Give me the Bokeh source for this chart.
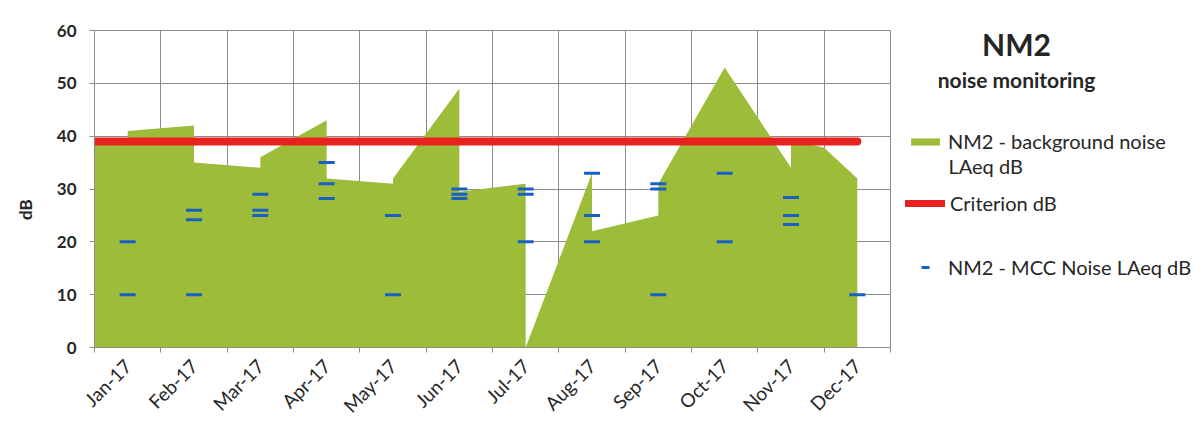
import math
from bokeh.plotting import figure
from bokeh.layouts import row
from bokeh.models import FixedTicker, Legend, LegendItem, Label, Range1d
from bokeh.embed import file_html
from bokeh.resources import INLINE

months = ["Jan-17", "Feb-17", "Mar-17", "Apr-17", "May-17", "Jun-17",
          "Jul-17", "Aug-17", "Sep-17", "Oct-17", "Nov-17", "Dec-17"]

# NM2 background noise: position on the month axis (0 = axis start, 0.5 = Jan-17 ...), LAeq dB
bg_pos = [0.0, 0.5, 0.5, 1.5, 1.5, 2.5, 2.5, 3.5, 3.5, 4.5, 4.5, 5.5, 5.5,
          6.5, 6.5, 7.5, 7.5, 8.5, 8.5, 9.5, 10.5, 10.5, 11.0, 11.5]
bg_db = [39.5, 39.5, 41, 42, 35, 34, 36, 43, 32, 31, 32, 49, 29.5,
         31, 0, 33, 22, 25, 31, 53, 34, 39.3, 37.8, 32]

# Criterion dB
crit_pos = [0.0, 0.5, 1.5, 2.5, 3.5, 4.5, 5.5, 6.5, 7.5, 8.5, 9.5, 10.5, 11.5]
crit_db = [39, 39, 39, 39, 39, 39, 39, 39, 39, 39, 39, 39, 39]

# NM2 - MCC noise LAeq dB
mcc_month = ["Jan-17", "Jan-17",
             "Feb-17", "Feb-17", "Feb-17",
             "Mar-17", "Mar-17", "Mar-17",
             "Apr-17", "Apr-17", "Apr-17",
             "May-17", "May-17",
             "Jun-17", "Jun-17", "Jun-17",
             "Jul-17", "Jul-17", "Jul-17",
             "Aug-17", "Aug-17", "Aug-17",
             "Sep-17", "Sep-17", "Sep-17",
             "Oct-17", "Oct-17",
             "Nov-17", "Nov-17", "Nov-17",
             "Dec-17"]
mcc_db = [20, 10,
          26, 24.2, 10,
          29, 26, 25,
          35, 31, 28.2,
          25, 10,
          30, 29, 28.2,
          30, 29, 20,
          33, 25, 20,
          31, 30, 10,
          33, 20,
          28.4, 25, 23.3,
          10]

db_ticks = [0, 10, 20, 30, 40, 50, 60]

GREEN = "#9dbd3a"
RED = "#e8231f"
BLUE = "#1a5fc4"
GRID = "#8c8c8c"
TXT = "#262626"
FONT = "Lato"

mcc_x = [months.index(m) + 0.5 for m in mcc_month]
centers = [i + 0.5 for i in range(len(months))]
bounds = list(range(len(months) + 1))

# ---------------- main chart ----------------
p = figure(width=891, height=428, output_backend="svg", toolbar_location=None,
           x_range=Range1d(0, len(months)), y_range=Range1d(db_ticks[0], db_ticks[-1]),
           min_border_left=94, min_border_right=1, min_border_top=30, min_border_bottom=80)
p.background_fill_color = "white"
p.border_fill_color = "white"
p.outline_line_color = GRID

area = p.varea(x=bg_pos, y1=0, y2=bg_db, fill_color=GREEN)
crit = p.line(crit_pos, crit_db, line_color=RED, line_width=8, line_cap="round")
mcc = p.scatter(mcc_x, mcc_db, marker="dash", size=16, line_color=BLUE, line_width=3)

# x axis
p.xaxis.ticker = FixedTicker(ticks=centers, minor_ticks=bounds)
p.xaxis.major_label_overrides = {c: m for c, m in zip(centers, months)}
p.xaxis.major_tick_line_color = None
p.xaxis.minor_tick_line_color = GRID
p.xaxis.minor_tick_in = 0
p.xaxis.minor_tick_out = 5
p.xaxis.axis_line_color = GRID
p.xaxis.major_label_orientation = math.pi / 4
p.xaxis.major_label_standoff = 9
p.xaxis.major_label_text_font = FONT
p.xaxis.major_label_text_font_size = "19px"
p.xaxis.major_label_text_color = TXT

# y axis
p.yaxis.ticker = FixedTicker(ticks=db_ticks)
p.yaxis.axis_line_color = GRID
p.yaxis.major_tick_line_color = GRID
p.yaxis.major_tick_in = 0
p.yaxis.major_tick_out = 5
p.yaxis.minor_tick_line_color = None
p.yaxis.major_label_standoff = 13
p.yaxis.major_label_text_font = FONT
p.yaxis.major_label_text_font_style = "bold"
p.yaxis.major_label_text_font_size = "17px"
p.yaxis.major_label_text_color = TXT
p.yaxis.axis_label = "dB" + "\u00a0" * 10
p.yaxis.axis_label_standoff = 18
p.yaxis.axis_label_text_font = FONT
p.yaxis.axis_label_text_font_style = "bold"
p.yaxis.axis_label_text_font_size = "17px"
p.yaxis.axis_label_text_color = TXT

# grid
p.xgrid.ticker = FixedTicker(ticks=bounds)
p.xgrid.grid_line_color = GRID
p.ygrid.ticker = FixedTicker(ticks=db_ticks)
p.ygrid.grid_line_color = GRID

# ---------------- title + legend panel (data coordinates = page pixels) ----------------
q = figure(width=311, height=428, output_backend="svg", toolbar_location=None,
           x_range=Range1d(891, 1202), y_range=Range1d(348, 30),
           x_axis_type=None, y_axis_type=None,
           min_border_left=0, min_border_right=0, min_border_top=30, min_border_bottom=80)
q.grid.visible = False
q.outline_line_color = None
q.background_fill_color = "white"
q.border_fill_color = "white"

# legend swatch renderers (same series, they fall outside this panel's ranges)
sw_area = q.varea(x=bg_pos, y1=0, y2=bg_db, fill_color=GREEN)
sw_crit = q.line(crit_pos, crit_db, line_color=RED, line_width=7, line_cap="round")
sw_mcc = q.scatter(mcc_x, mcc_db, marker="dash", size=13, line_color=BLUE, line_width=3)

q.add_layout(Label(x=1016, y=44, text="NM2", text_align="center", text_baseline="middle",
                   text_font=FONT, text_font_style="bold", text_font_size="30px",
                   text_color=TXT))
q.add_layout(Label(x=1016, y=79, text="noise monitoring", text_align="center",
                   text_baseline="middle", text_font=FONT, text_font_style="bold",
                   text_font_size="21px", text_color=TXT))
q.add_layout(Label(x=948, y=166, text="LAeq dB", text_align="left",
                   text_baseline="middle", text_font=FONT,
                   text_font_size="20px", text_color=TXT))

def make_legend(item, x, y, gw, gh):
    lg = Legend(items=[item], location=(x, y), orientation="vertical",
                border_line_color=None, background_fill_alpha=0,
                padding=0, margin=0, spacing=0,
                glyph_width=gw, glyph_height=gh, label_standoff=5,
                label_text_font=FONT, label_text_font_size="20px",
                label_text_color=TXT, label_height=gh)
    q.add_layout(lg, "center")
    return lg

make_legend(LegendItem(label="NM2 - background noise", renderers=[sw_area]), 16, 194, 36, 9)
make_legend(LegendItem(label="Criterion dB", renderers=[sw_crit]), 14, 132, 40, 20)
make_legend(LegendItem(label="NM2 - MCC Noise LAeq dB", renderers=[sw_mcc]), 16, 68, 36, 20)

layout = row(p, q)
open("out.html", "w").write(file_html(layout, INLINE))
